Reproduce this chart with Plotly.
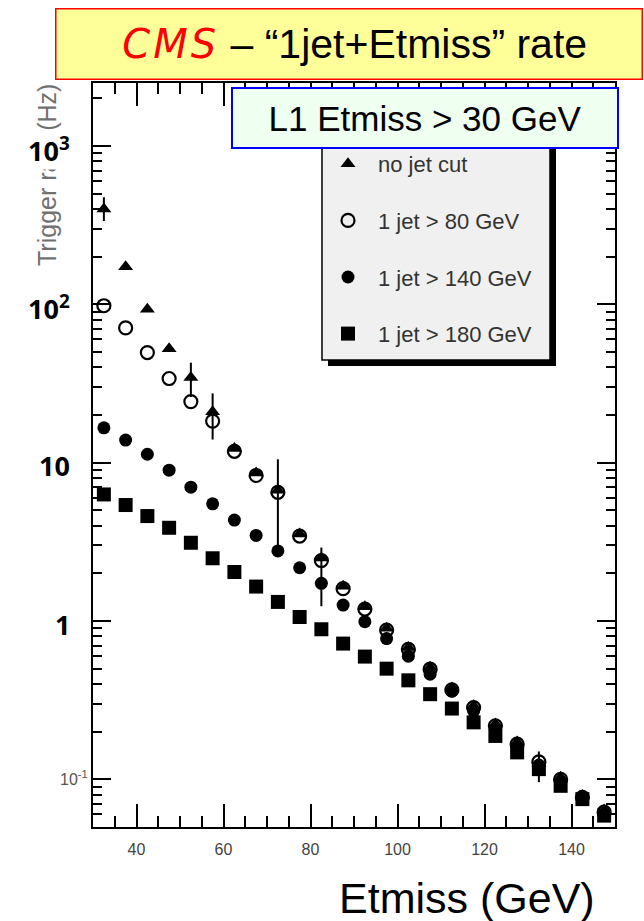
import math
import plotly.graph_objects as go

# Missing transverse energy bin centres (GeV)
etmiss = [32.5, 37.5, 42.5, 47.5, 52.5, 57.5, 62.5, 67.5, 72.5, 77.5, 82.5, 87.5,
          92.5, 97.5, 102.5, 107.5, 112.5, 117.5, 122.5, 127.5, 132.5, 137.5, 142.5, 147.5]

# Trigger rates (Hz)
rate_nojet = [400, 173, 93, 52.5, 34.5, 21.0, 12.3, 8.6, 6.7, 3.55, 2.5, 1.66,
              1.23, 0.9, 0.68, 0.51, 0.377, 0.292, 0.224, 0.172, 0.126, 0.103, 0.079, 0.064]
rate_jet80 = [98, 71, 49.6, 34, 24.3, 18.3, 11.8, 8.3, 6.5, 3.44, 2.41, 1.6,
              1.19, 0.877, 0.663, 0.496, 0.367, 0.284, 0.218, 0.167, 0.129, 0.1, 0.077, 0.062]
rate_jet140 = [16.6, 13.9, 11.3, 8.97, 7.0, 5.5, 4.34, 3.47, 2.77, 2.17, 1.73, 1.26,
               0.99, 0.775, 0.60, 0.461, 0.36, 0.27, 0.207, 0.16, 0.123, 0.096, 0.075, 0.06]
rate_jet180 = [6.3, 5.4, 4.6, 3.88, 3.12, 2.49, 2.04, 1.65, 1.32, 1.06, 0.887, 0.72,
               0.596, 0.50, 0.422, 0.345, 0.28, 0.229, 0.188, 0.148, 0.116, 0.091, 0.075, 0.059]

# Statistical uncertainties (up / down), Hz
err_nojet_up = [75, 0, 0, 0, 8.3, 6.4, 0, 0, 0, 0, 0, 0,
                0, 0, 0, 0, 0, 0, 0, 0, 0.024, 0, 0, 0]
err_nojet_dn = [64, 0, 0, 0, 8.5, 7.0, 0, 0, 0, 0, 0, 0,
                0, 0, 0, 0, 0, 0, 0, 0, 0.03, 0, 0, 0]
err_jet80_up = [0, 0, 0, 0, 0, 0, 0, 0, 4.0, 0, 0.5, 0,
                0, 0, 0, 0, 0, 0, 0, 0, 0, 0, 0, 0]
err_jet80_dn = [0, 0, 0, 0, 0, 0, 0, 0, 3.7, 0, 1.17, 0,
                0, 0, 0, 0, 0, 0, 0, 0, 0, 0, 0, 0]

series_names = ["no jet cut", "1 jet > 80 GeV", "1 jet > 140 GeV", "1 jet > 180 GeV"]

x_ticks = [40, 60, 80, 100, 120, 140]
y_ticks = [0.1, 1, 10, 100, 1000]
y_big_labels = ["1", "10", "10<sup>2</sup>", "10<sup>3</sup>"]

SANS = "Liberation Sans, Arial, sans-serif"

fig = go.Figure()


def err(up, dn):
    return dict(type="data", symmetric=False, array=up, arrayminus=dn,
                color="black", thickness=2, width=0)


fig.add_trace(go.Scatter(
    x=etmiss, y=rate_nojet, mode="markers", name=series_names[0], legendgroup="a",
    marker=dict(symbol="triangle-up", size=13, color="black"),
    error_y=err(err_nojet_up, err_nojet_dn)))
fig.add_trace(go.Scatter(
    x=etmiss, y=rate_jet80, mode="markers", name=series_names[1], legendgroup="b",
    marker=dict(symbol="circle-open", size=13, color="black", line=dict(width=2.2)),
    error_y=err(err_jet80_up, err_jet80_dn)))
fig.add_trace(go.Scatter(
    x=etmiss, y=rate_jet140, mode="markers", name=series_names[2], legendgroup="c",
    marker=dict(symbol="circle", size=13, color="black")))
fig.add_trace(go.Scatter(
    x=etmiss, y=rate_jet180, mode="markers", name=series_names[3], legendgroup="d",
    marker=dict(symbol="square", size=14, color="black")))

W, H = 644, 921
ML, MR, MT, MB = 93, 29, 83, 94
PW, PH = W - ML - MR, H - MT - MB


def px(xp):
    return (xp - ML) / PW


def py(yp):
    return (H - MB - yp) / PH


fig.update_layout(
    width=W, height=H,
    margin=dict(l=ML, r=MR, t=MT, b=MB, pad=0),
    paper_bgcolor="white", plot_bgcolor="white",
    font=dict(family=SANS, color="black"),
    showlegend=True,
    legend=dict(x=px(318), y=py(143), xanchor="left", yanchor="top",
                bgcolor="rgba(0,0,0,0)", borderwidth=0,
                font=dict(family=SANS, size=22, color="#333333"),
                tracegroupgap=25, itemwidth=50, itemsizing="trace"),
    xaxis=dict(range=[30, 150], tickmode="array", tickvals=x_ticks,
               ticks="inside", ticklen=23, tickwidth=1.5, tickcolor="black",
               minor=dict(ticks="inside", ticklen=11, tickwidth=1.5, tickcolor="black",
                          dtick=5, tick0=0, showgrid=False),
               showline=True, linewidth=2, linecolor="black", mirror="allticks",
               showgrid=False, zeroline=False, ticklabelstandoff=7,
               tickfont=dict(family=SANS, size=16, color="#444444")),
    yaxis=dict(type="log", range=[math.log10(0.05), math.log10(2500)],
               tickmode="array", tickvals=y_ticks,
               ticktext=["10<sup>-1</sup>", "", "", "", ""],
               ticks="inside", ticklen=18, tickwidth=1.5, tickcolor="black",
               minor=dict(ticks="inside", ticklen=9, tickwidth=1.5, tickcolor="black",
                          dtick="D1", showgrid=False),
               showline=True, linewidth=2, linecolor="black", mirror="allticks",
               showgrid=False, zeroline=False,
               tickfont=dict(family=SANS, size=16, color="#555555")),
)

# Legend frame with drop shadow
fig.add_shape(type="rect", xref="paper", yref="paper",
              x0=px(328), x1=px(556), y0=py(366), y1=py(146),
              fillcolor="black", line=dict(width=0), layer="above")
fig.add_shape(type="rect", xref="paper", yref="paper",
              x0=px(322), x1=px(550), y0=py(360), y1=py(140),
              fillcolor="#f0f0f0", line=dict(color="black", width=1.5), layer="above")

# Y axis title
fig.add_annotation(xref="paper", yref="paper", x=px(47), y=py(82),
                   xanchor="center", yanchor="top", textangle=-90,
                   text="Trigger rate (Hz)", showarrow=False,
                   font=dict(family=SANS, size=25, color="#707070"))

# Large decade labels
for val, lab in zip(y_ticks[1:], y_big_labels):
    fig.add_annotation(xref="paper", yref="y", x=0, y=math.log10(val),
                       xanchor="right", yanchor="middle", xshift=-22, yshift=-3,
                       text="<b>" + lab + "</b>", showarrow=False,
                       bgcolor="white", borderpad=0,
                       font=dict(family="Noto Sans, sans-serif", size=27, color="black"))

# X axis title
fig.add_annotation(xref="paper", yref="paper", x=px(467), y=py(898),
                   xanchor="center", yanchor="middle",
                   text="Etmiss (GeV)", showarrow=False,
                   font=dict(family=SANS, size=43, color="black"))

# Selection box
fig.add_annotation(xref="paper", yref="paper", x=px(425), y=py(118),
                   xanchor="center", yanchor="middle",
                   text="L1 Etmiss > 30 GeV", showarrow=False,
                   width=384, height=58, borderpad=0, borderwidth=2,
                   bordercolor="#0000ff", bgcolor="#effff0",
                   font=dict(family=SANS, size=35, color="black"))

# Title banner
fig.add_annotation(xref="paper", yref="paper", x=px(349), y=py(43.5),
                   xanchor="center", yanchor="middle",
                   text="\u00a0<span style='font-family:DejaVu Sans;font-size:40px;"
                        "letter-spacing:3px;color:#ff0000'><i>CMS</i></span>"
                        " – “1jet+Etmiss” rate",
                   showarrow=False,
                   width=585, height=69, borderpad=0, borderwidth=1.5,
                   bordercolor="#ff0000", bgcolor="#ffff99",
                   font=dict(family=SANS, size=41, color="black"))

fig.write_html("out.html")
